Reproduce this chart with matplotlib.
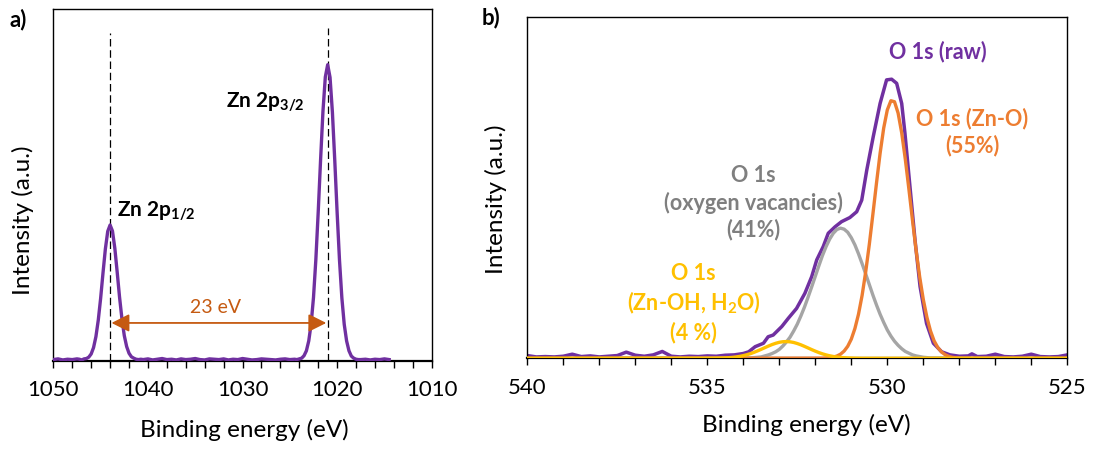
import matplotlib
matplotlib.use("Agg")
import matplotlib.pyplot as plt
from matplotlib.ticker import MultipleLocator
import numpy as np

plt.rcParams["font.family"] = ["Lato", "DejaVu Sans"]
plt.rcParams["mathtext.fontset"] = "custom"
plt.rcParams["mathtext.rm"] = "Lato"
plt.rcParams["mathtext.bf"] = "Lato:bold"

PURPLE = "#7030A0"
ORANGE = "#ED7D31"
GRAY = "#A5A5A5"
YELLOW = "#FFC000"
ARROW = "#C55A11"

# ---- Zn 2p survey (panel a) ----
zn_energy = np.concatenate([
    np.linspace(1050, 1047.5, 6),
    np.linspace(1047.25, 1040.75, 27),
    np.linspace(1040.5, 1024.5, 33),
    np.linspace(1024.25, 1017.75, 27),
    np.linspace(1017.5, 1014.5, 7),
])
zn_intensity = (
    [0.004, 0.006, 0.003, 0.005, 0.004, 0.006]
    + [0.005, 0.003, 0.006, 0.007, 0.011, 0.020, 0.038, 0.069, 0.116, 0.178,
       0.250, 0.318, 0.368, 0.386, 0.369, 0.320, 0.252, 0.181, 0.120, 0.072,
       0.041, 0.022, 0.012, 0.008, 0.005, 0.004, 0.005]
    + [0.004, 0.006, 0.003, 0.005, 0.007, 0.004, 0.005, 0.003, 0.006, 0.004,
       0.005, 0.007, 0.004, 0.003, 0.006, 0.005, 0.004, 0.006, 0.003, 0.005,
       0.004, 0.007, 0.005, 0.003, 0.004, 0.006, 0.005, 0.004, 0.003, 0.005,
       0.006, 0.004, 0.005]
    + [0.004, 0.006, 0.008, 0.015, 0.029, 0.057, 0.105, 0.180, 0.288, 0.423,
       0.571, 0.708, 0.806, 0.841, 0.805, 0.706, 0.569, 0.421, 0.286, 0.179,
       0.104, 0.057, 0.029, 0.014, 0.008, 0.005, 0.004]
    + [0.004, 0.005, 0.003, 0.005, 0.004, 0.006, 0.004]
)
zn_peaks = [1044.0, 1021.0]
zn_split = 23

# ---- O 1s high resolution (panel b) ----
o_raw_energy = [
    540.00, 539.75, 539.50, 539.25, 539.00, 538.75, 538.50, 538.25, 538.00,
    537.75, 537.50, 537.25, 537.00, 536.75, 536.50, 536.25, 536.00, 535.75,
    535.50, 535.25, 535.00, 534.75, 534.50, 534.25, 534.00, 533.85, 533.67,
    533.44, 533.31, 533.17, 532.93, 532.75, 532.52, 532.29, 532.10, 531.96,
    531.78, 531.64, 531.45, 531.27, 531.04, 530.85, 530.71, 530.57, 530.39,
    530.20, 530.02, 529.88, 529.74, 529.60, 529.51, 529.37, 529.23, 529.09,
    528.91, 528.72, 528.49, 528.26, 528.00, 527.75, 527.65, 527.50, 527.25,
    527.00, 526.75, 526.50, 526.25, 526.00, 525.75, 525.50, 525.25, 525.00,
]
o_raw = [
    0.008, 0.004, 0.005, 0.004, 0.006, 0.012, 0.005, 0.007, 0.004,
    0.006, 0.008, 0.018, 0.009, 0.006, 0.010, 0.020, 0.006, 0.004,
    0.006, 0.005, 0.007, 0.006, 0.009, 0.010, 0.014, 0.019, 0.034,
    0.044, 0.063, 0.068, 0.093, 0.117, 0.146, 0.190, 0.239, 0.288,
    0.327, 0.366, 0.385, 0.400, 0.412, 0.429, 0.463, 0.551, 0.649,
    0.746, 0.815, 0.817, 0.805, 0.746, 0.659, 0.502, 0.346, 0.210,
    0.102, 0.044, 0.019, 0.010, 0.006, 0.007, 0.013, 0.005, 0.006,
    0.012, 0.005, 0.004, 0.006, 0.012, 0.005, 0.004, 0.005, 0.010,
]

# fitted components
zno_energy = np.concatenate([[540], np.linspace(531.8, 527.9, 40), [525]])
zno_fit = [0] + [
    0.0004, 0.0009, 0.0018, 0.0035, 0.0066, 0.012, 0.021, 0.035, 0.056, 0.087,
    0.129, 0.184, 0.253, 0.333, 0.422, 0.513, 0.600, 0.674, 0.727, 0.754,
    0.751, 0.718, 0.660, 0.583, 0.495, 0.404, 0.316, 0.238, 0.172, 0.120,
    0.080, 0.051, 0.032, 0.019, 0.011, 0.006, 0.003, 0.0015, 0.0007, 0.0003,
] + [0]

vac_energy = np.concatenate([[540], np.linspace(533.8, 528.8, 51), [525]])
vac_fit = [0] + [
    0.001, 0.002, 0.003, 0.004, 0.007, 0.010, 0.014, 0.019, 0.026, 0.036,
    0.048, 0.062, 0.080, 0.100, 0.124, 0.150, 0.179, 0.209, 0.240, 0.271,
    0.301, 0.327, 0.349, 0.366, 0.377, 0.381, 0.378, 0.369, 0.353, 0.332,
    0.306, 0.277, 0.247, 0.216, 0.185, 0.156, 0.129, 0.105, 0.083, 0.065,
    0.050, 0.038, 0.028, 0.020, 0.015, 0.010, 0.007, 0.005, 0.003, 0.002,
    0.001,
] + [0]

oh_energy = np.concatenate([[540], np.linspace(535.0, 530.6, 45), [525]])
oh_fit = [0] + [
    0.0001, 0.0002, 0.0003, 0.0005, 0.0008, 0.0012, 0.0018, 0.0027, 0.0040, 0.0056,
    0.0078, 0.0105, 0.0137, 0.0175, 0.0218, 0.0264, 0.0312, 0.0359, 0.0402, 0.0439,
    0.0468, 0.0485, 0.0490, 0.0482, 0.0463, 0.0432, 0.0394, 0.0349, 0.0302, 0.0254,
    0.0209, 0.0167, 0.0130, 0.0099, 0.0073, 0.0053, 0.0037, 0.0025, 0.0017, 0.0011,
    0.0007, 0.0004, 0.0003, 0.0001, 0.0001,
] + [0]

fig = plt.figure(figsize=(10.93, 4.5), dpi=100)
ax1 = fig.add_axes([0.0488, 0.1978, 0.3462, 0.7829])
ax2 = fig.add_axes([0.4824, 0.2038, 0.4941, 0.7591])


def style_axes(ax, xmin, xmax, major, minor):
    ax.set_xlim(xmin, xmax)
    ax.set_ylim(0, 1)
    ax.set_yticks([])
    ax.xaxis.set_major_locator(MultipleLocator(major))
    ax.xaxis.set_minor_locator(MultipleLocator(minor))
    ax.tick_params(axis="x", which="both", direction="out", length=5, width=1,
                   labelsize=16, pad=9)
    for s in ax.spines.values():
        s.set_linewidth(1.0)
    ax.spines["bottom"].set_linewidth(1.6)


# panel a
style_axes(ax1, 1050, 1010, 10, 2)
ax1.plot(zn_energy, zn_intensity, color=PURPLE, lw=2.4, zorder=3)
ax1.axvline(zn_peaks[0], ymax=0.931, color="black", lw=0.9, ls=(0, (6, 3)), zorder=2)
ax1.axvline(zn_peaks[1], ymax=0.945, color="black", lw=0.9, ls=(0, (6, 3)), zorder=2)
ax1.annotate("", xy=(zn_peaks[1], 0.108), xytext=(zn_peaks[0], 0.108),
             arrowprops=dict(arrowstyle="<|-|>,head_length=0.6,head_width=0.3",
                             color=ARROW, lw=1.3, mutation_scale=18,
                             shrinkA=1, shrinkB=1), zorder=4)
ax1.text((zn_peaks[0] + zn_peaks[1]) / 2 + 0.4, 0.153, f"{zn_split} eV",
         color=ARROW, fontsize=14, ha="center", va="center")
ax1.text(1031.7, 0.735, r"Zn 2p$_{\mathbf{3/2}}$", fontsize=15,
         fontweight="bold", ha="left", va="center")
ax1.text(1043.3, 0.426, r"Zn 2p$_{\mathbf{1/2}}$", fontsize=15,
         fontweight="bold", ha="left", va="center")
ax1.set_xlabel("Binding energy (eV)", fontsize=17.5, va="center")
ax1.set_ylabel("Intensity (a.u.)", fontsize=17.5, va="center")
ax1.xaxis.set_label_coords(0.506, -0.196)
ax1.yaxis.set_label_coords(-0.08, 0.40)

# panel b
style_axes(ax2, 540, 525, 5, 1)
ax2.plot(o_raw_energy, o_raw, color=PURPLE, lw=2.5, zorder=2)
ax2.plot(vac_energy, vac_fit, color=GRAY, lw=2.4, zorder=3)
ax2.plot(zno_energy, zno_fit, color=ORANGE, lw=2.4, zorder=4)
ax2.plot(oh_energy, oh_fit, color=YELLOW, lw=2.4, zorder=5)
ax2.text(528.59, 0.897, "O 1s (raw)", color=PURPLE, fontsize=15.5,
         fontweight="bold", ha="center", va="center")
ax2.text(527.65, 0.662, "O 1s (Zn-O)\n(55%)", color=ORANGE, fontsize=15.5,
         fontweight="bold", ha="center", va="center", linespacing=1.3)
ax2.text(533.73, 0.455, "O 1s\n(oxygen vacancies)\n(41%)", color="#7F7F7F",
         fontsize=15.5, fontweight="bold", ha="center", va="center", linespacing=1.3)
ax2.text(535.38, 0.162, "O 1s\n(Zn-OH, H$_\\mathbf{2}$O)\n(4 %)", color=YELLOW,
         fontsize=15.5, fontweight="bold", ha="center", va="center", linespacing=1.3)
ax2.set_xlabel("Binding energy (eV)", fontsize=17.5, va="center")
ax2.set_ylabel("Intensity (a.u.)", fontsize=17.5, va="center")
ax2.xaxis.set_label_coords(0.517, -0.195)
ax2.yaxis.set_label_coords(-0.0587, 0.466)

fig.text(10 / 1093, 1 - 20 / 450, "a)", fontsize=16, fontweight="bold", va="center")
fig.text(482 / 1093, 1 - 18 / 450, "b)", fontsize=16, fontweight="bold", va="center")

fig.savefig("out.png", dpi=100)
